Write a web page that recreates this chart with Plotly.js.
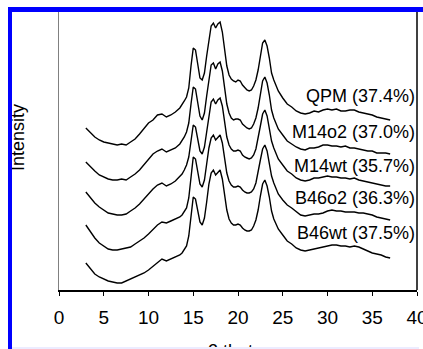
<!DOCTYPE html>
<html>
<head>
<meta charset="utf-8">
<script src="https://cdn.plot.ly/plotly-3.0.1.min.js"></script>
<style>
  html, body { margin: 0; padding: 0; background: #ffffff; }
  #wrap { position: relative; width: 423px; height: 349px; overflow: hidden; }
  #chart { position: absolute; left: 0; top: 0; width: 423px; height: 349px; }
  #frame { position: absolute; left: 8px; top: 7px; width: 411px; height: 360px;
           border-left: 4px solid #0000ff; border-top: 5px solid #0000ff; border-right: 4px solid #0000ff;
           pointer-events: none; }
  #band { position: absolute; left: 12px; top: 347px; width: 407px; height: 2px; background: #ececff; pointer-events: none; }
</style>
</head>
<body>
<div id="wrap">
  <div id="chart"></div>
  <div id="band"></div>
  <div id="frame"></div>
</div>
<script>
// 2-theta positions (degrees)
const twoTheta = [3,3.5,4,4.5,5,5.5,6,6.5,7,7.5,8,8.5,9,9.5,10,10.5,11,11.5,12,12.5,13,13.5,
  13.75,14,14.25,14.5,14.75,15,15.25,15.5,15.75,16,16.25,16.5,16.75,17,17.25,17.5,17.75,18,18.25,18.5,18.75,19,19.25,19.5,19.75,20,20.25,20.5,20.75,21,21.25,21.5,21.75,22,22.25,22.5,22.75,23,23.25,23.5,23.75,24,24.25,24.5,
  25,25.5,26,26.5,27,27.5,28,28.5,29,29.5,30,30.5,31,31.5,32,32.5,33,33.5,34,34.5,35,35.5,36,36.5,37];

// sample names (labels)
const sampleLabels = ["QPM (37.4%)", "M14o2 (37.0%)", "M14wt (35.7%)", "B46o2 (36.3%)", "B46wt (37.5%)"];

// intensities (arbitrary units, stacked with offsets as in the figure)
const qpm = [162,157,153,150,148,147,146,145,146,145,148,151,156,161,167,170,175,176,173,175,178,182,
  185,189,193,202,224,242,240,224,212,210,217,234,252,264,267,262,266,268,258,240,224,215,211,209,208,210,209,205,202,200,199,200,204,210,220,234,247,250,244,232,217,210,204,199,
  192,186,183,179,177,176,177,179,178,180,181,180,181,179,179,180,180,178,177,176,175,173,172,171,170];

const m14o2 = [128,123,119,115,113,111,110,110,111,110,113,116,120,125,131,136,139,141,138,140,142,146,
  149,153,158,167,186,203,201,186,174,170,177,194,212,225,227,221,226,228,219,201,186,177,172,170,171,171,170,166,164,162,161,162,166,172,182,196,209,213,207,195,180,172,166,161,
  155,149,146,143,141,140,142,142,143,145,145,144,144,143,144,142,142,141,140,139,139,137,137,137,136];

const m14wt = [98,92,87,83,80,77,76,75,75,76,79,82,86,91,97,101,105,107,104,106,109,113,
  116,120,125,133,150,165,163,150,139,136,143,158,176,188,191,186,190,192,184,168,153,145,141,139,139,140,139,135,133,132,131,132,135,141,151,164,176,180,174,163,149,142,136,131,
  125,119,116,112,110,109,110,112,112,113,114,113,113,112,112,111,112,110,109,108,107,106,105,104,104];

const b46o2 = [65,58,52,47,44,41,40,40,41,42,43,46,49,52,56,61,65,68,67,69,71,73,
  75,78,82,92,115,133,131,117,106,103,110,126,142,152,155,150,153,155,147,131,117,109,105,103,103,104,103,100,98,97,97,98,101,107,117,130,141,145,139,128,114,107,101,96,
  90,85,82,78,75,74,75,76,76,77,79,80,79,79,78,78,78,77,77,76,75,73,72,71,70];

const b46wt = [27,21,16,13,11,9,8,7,7,9,11,13,15,17,20,24,28,31,29,31,33,35,
  37,40,44,54,76,93,91,78,68,65,72,88,106,117,120,115,118,120,111,95,80,71,67,65,65,66,65,62,60,59,59,60,64,70,80,94,106,110,104,93,79,71,66,61,
  55,49,46,42,40,39,40,41,42,43,44,45,45,44,44,43,44,43,41,39,37,36,35,33,32];

// x-axis ticks
const xTicks = [0,5,10,15,20,25,30,35,40];

const series = [qpm, m14o2, m14wt, b46o2, b46wt];
const labelY = [194, 158, 124, 92, 57];

const FONT = "Arial, 'Liberation Sans', sans-serif";

const traces = series.map((ys, i) => ({
  x: twoTheta, y: ys, type: "scatter", mode: "lines",
  name: sampleLabels[i],
  line: { color: "#000000", width: 1.4 },
  hoverinfo: "skip"
}));

const annotations = sampleLabels.map((t, i) => ({
  x: 40, y: labelY[i], xref: "x", yref: "y", text: t, showarrow: false,
  xanchor: "right", yanchor: "middle", font: { family: FONT, size: 18, color: "#000000" }
}));
annotations.push({
  x: -0.115, y: 0.55, xref: "paper", yref: "paper", text: "Intensity", showarrow: false,
  textangle: -90, xanchor: "center", yanchor: "middle", font: { family: FONT, size: 18, color: "#000000" }
});
// x-axis title, placed low like in the reference (partly below the picture edge)
annotations.push({
  x: 0.495, y: -0.176, xref: "paper", yref: "paper", text: "2 theta", showarrow: false,
  xanchor: "center", yanchor: "top", font: { family: FONT, size: 18, color: "#000000" }
});

const layout = {
  width: 423, height: 349,
  margin: { l: 59, r: 6, t: 12, b: 59, pad: 0 },
  paper_bgcolor: "#ffffff", plot_bgcolor: "#ffffff",
  showlegend: false,
  xaxis: {
    range: [0, 40], tickvals: xTicks, ticktext: xTicks.map(String),
    showgrid: false, zeroline: false,
    showline: true, linecolor: "#000000", linewidth: 1.5,
    ticks: "outside", ticklen: 4, tickcolor: "#000000", tickwidth: 1,
    ticklabeloverflow: "allow", ticklabelstandoff: 6,
    tickfont: { family: FONT, size: 19, color: "#000000" },
    automargin: false
  },
  yaxis: {
    range: [0, 278], showgrid: false, zeroline: false,
    showline: true, linecolor: "#808080", linewidth: 1.5,
    showticklabels: false, ticks: ""
  },
  shapes: [{
    type: "line", xref: "paper", yref: "paper", x0: 1, x1: 1, y0: 0, y1: 1,
    line: { color: "#000000", width: 1.5 }
  }],
  annotations: annotations
};

Plotly.newPlot("chart", traces, layout, { staticPlot: true, displayModeBar: false });
</script>
</body>
</html>
